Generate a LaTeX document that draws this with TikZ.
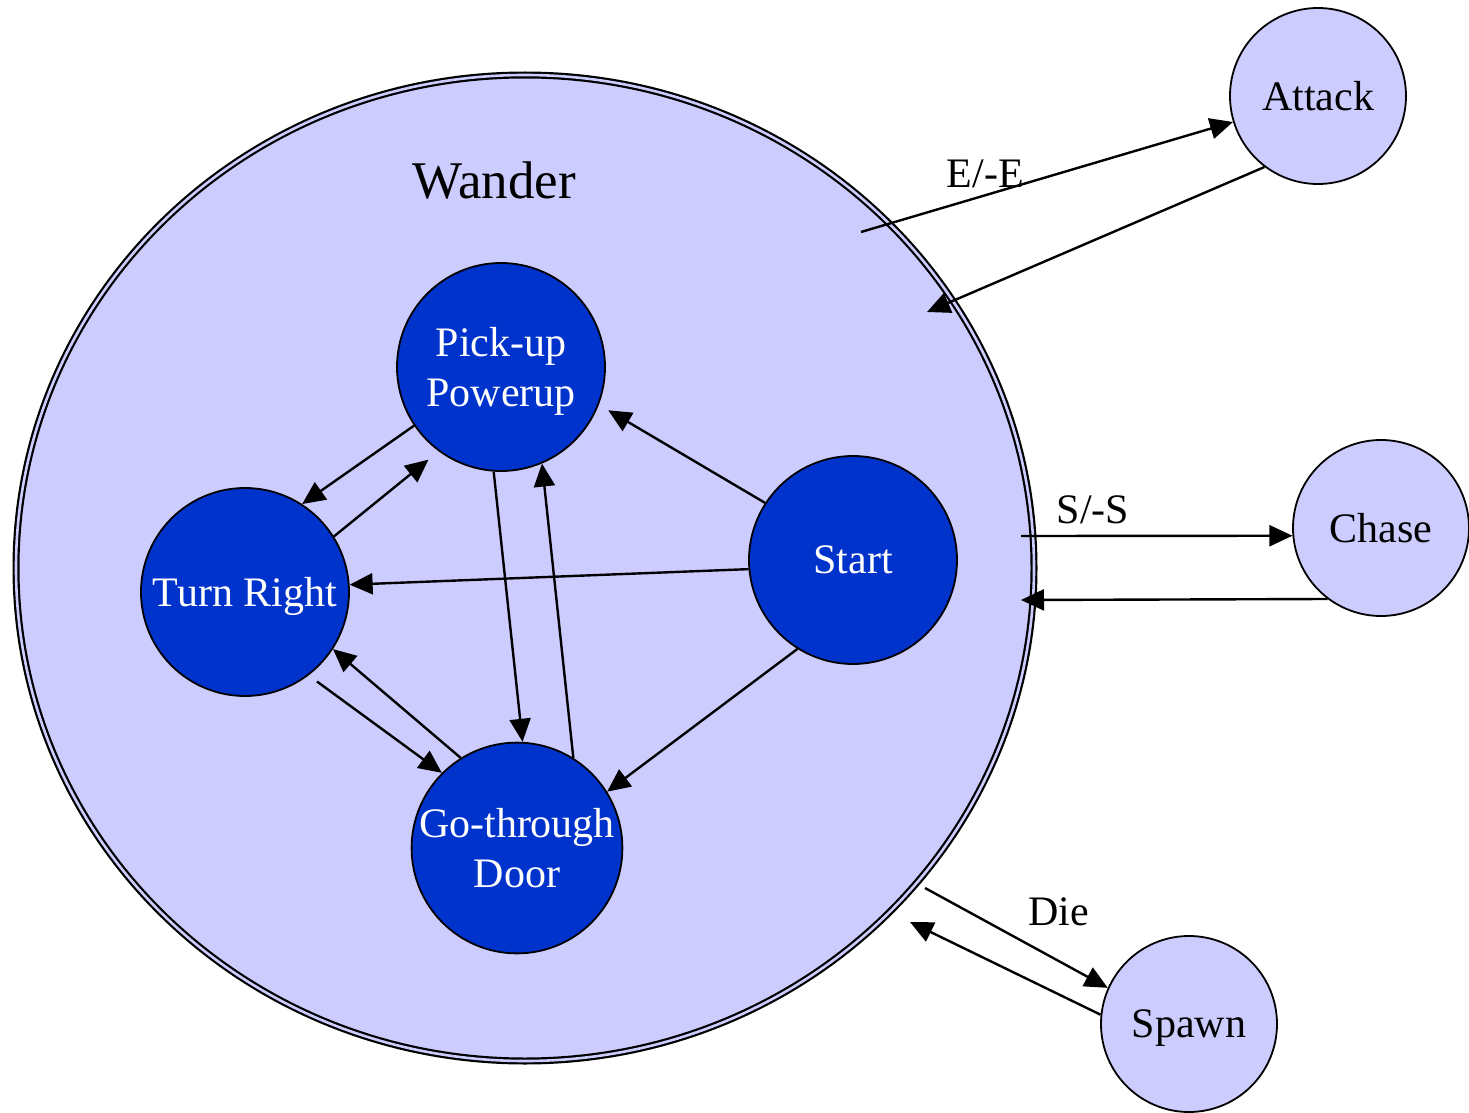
\documentclass[tikz,border=0pt]{standalone}
\usepackage{fontspec}
\setmainfont{Liberation Serif}
\usepackage{xcolor}
\definecolor{wanderFill}{HTML}{CCCCFF}
\definecolor{stateBlue}{HTML}{0033CC}
\usetikzlibrary{shapes.geometric, arrows.meta}

\begin{document}
\begin{tikzpicture}[
        x=0.5pt, y=-0.5pt,
        >={Triangle[length=11.5pt, width=10.5pt]},
        wanderNode/.style={
            ellipse,
            draw=black,
            line width=1.1pt,
            double=wanderFill,
            double distance=1.3pt,
            fill=wanderFill,
            minimum width=509pt,
            minimum height=493pt,
            inner sep=0pt
        },
        innerState/.style={
            circle,
            draw=black,
            line width=0.9pt,
            fill=stateBlue,
            minimum size=104pt,
            inner sep=0pt,
            text depth=0pt,
            text=white,
            align=center,
            font=\fontsize{21}{25}\selectfont
        },
        outerState/.style={
            circle,
            draw=black,
            line width=0.9pt,
            fill=wanderFill,
            minimum size=88pt,
            inner sep=0pt,
            text depth=0pt,
            align=center,
            font=\fontsize{21}{25}\selectfont
        },
        transLine/.style={
            ->,
            line width=1.2pt,
            black
        },
        transLabel/.style={
            font=\fontsize{21}{25}\selectfont,
            inner sep=0pt
        }
    ]
    \useasboundingbox (0,0) rectangle (1469,1113);

    % Wander super-state
    \node[wanderNode] (wander) at (525,568) {};
    \node[font=\fontsize{26.5}{30}\selectfont] (wanderLabel) at (494,181) {Wander};

    % Free ends on the wander state
    \coordinate (wanderToAttack) at (861,232);
    \coordinate (attackToWander) at (927,312);
    \coordinate (wanderToChase) at (1021,536);
    \coordinate (chaseToWander) at (1021,600);
    \coordinate (wanderToSpawn) at (925,888);
    \coordinate (spawnToWander) at (910,922);

    % Inner states
    \node[innerState] (pickup) at (501,367) {Pick-up\\Powerup};
    \node[innerState] (turn) at (245,592) {Turn Right};
    \node[innerState] (start) at (853,560) {Start};
    \node[innerState] (door) at (517,848) {Go-through\\Door};

    % Outer states
    \node[outerState] (attack) at (1318,96) {Attack};
    \node[outerState] (chase) at (1381,528) {Chase};
    \node[outerState] (spawn) at (1189,1024) {Spawn};

    % Inner transitions
    \draw[transLine] (pickup.214) -- (turn.57);
    \draw[transLine] (turn.32) -- ([shift={(-8,10)}]pickup.232);
    \draw[transLine] (start.185) -- (turn.4);
    \draw[transLine] (start.147) -- ([shift={(10,4)}]pickup.338);
    \draw[transLine] (start.238) -- (door.32);
    \draw[transLine] (pickup.266) -- (door.87);
    \draw[transLine] (door.58) -- (pickup.293);
    \draw[transLine] ([shift={(6,8)}]turn.309) -- (door.135);
    \draw[transLine] (door.122) -- (turn.327);

    % Outer transitions
    \draw[transLine] (wanderToAttack) -- (attack.197)
        node[transLabel, pos=0.35, xshift=-3pt, yshift=10pt] {E/-E};
    \draw[transLine] (attack.233) -- (attackToWander);
    \draw[transLine] (wanderToChase) -- (chase.185)
        node[transLabel, pos=0.265, yshift=13pt] {S/-S};
    \draw[transLine] (chase.233) -- (chaseToWander);
    \draw[transLine] (wanderToSpawn) -- (spawn.156)
        node[transLabel, pos=0.62, xshift=10pt, yshift=19pt] {Die};
    \draw[transLine] (spawn.174) -- (spawnToWander);

    \end{tikzpicture}
\end{document}
